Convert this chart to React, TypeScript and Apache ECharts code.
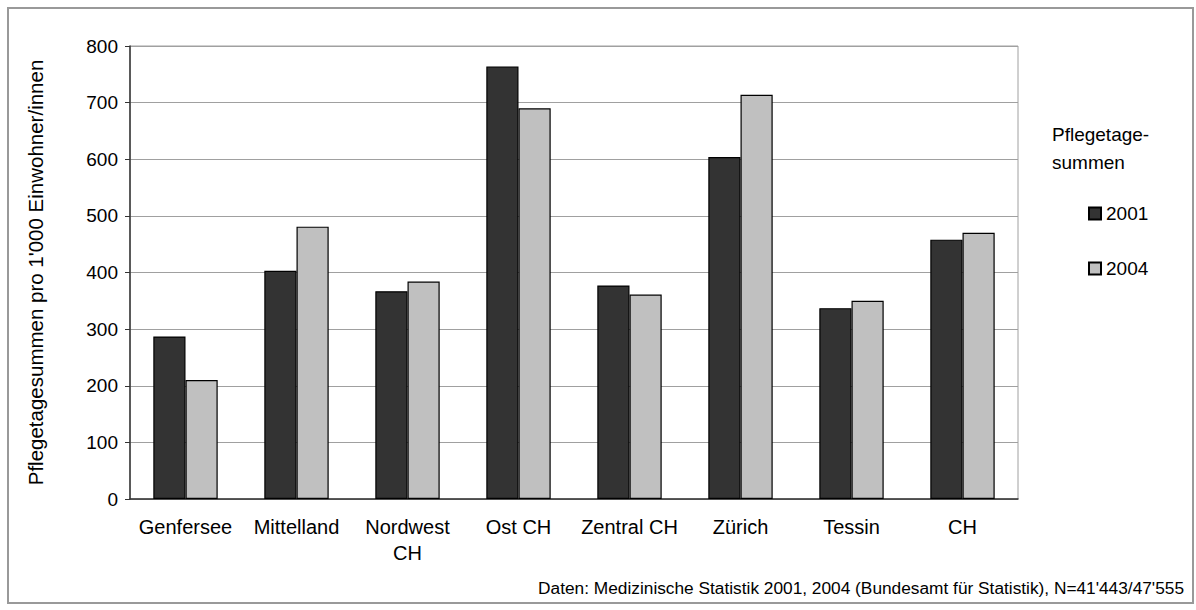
import React, { useEffect, useRef } from "react";
import * as echarts from "echarts";

const categories = ["Genfersee", "Mittelland", "Nordwest\nCH", "Ost CH", "Zentral CH", "Zürich", "Tessin", "CH"];
const values2001 = [287, 403, 367, 764, 377, 604, 337, 458];
const values2004 = [210, 481, 384, 690, 361, 714, 350, 470];
const seriesNames = ["2001", "2004"];
const legendTitle = "Pflegetage-\nsummen";
const yAxisTitle = "Pflegetagesummen pro 1'000 Einwohner/innen";
const footer = "Daten: Medizinische Statistik 2001, 2004 (Bundesamt für Statistik), N=41'443/47'555";

const FONT = "Liberation Sans, Arial, sans-serif";

export default function App() {
  const ref = useRef<HTMLDivElement>(null);
  useEffect(() => {
    if (!ref.current) return;
    const chart = echarts.init(ref.current, undefined, { renderer: "svg" });
    chart.setOption({
      animation: false,
      backgroundColor: "#ffffff",
      textStyle: { fontFamily: FONT },
      grid: {
        left: 130,
        top: 46,
        right: 178,
        bottom: 111,
        show: true,
        borderColor: "#a0a0a0",
        borderWidth: 1,
        backgroundColor: "transparent",
      },
      legend: {
        orient: "vertical",
        left: 1083,
        top: 199,
        itemWidth: 12,
        itemHeight: 12,
        itemGap: 36,
        icon: "rect",
        data: seriesNames,
        textStyle: { fontFamily: FONT, fontSize: 19, color: "#000", padding: [0, 0, 0, 0] },
      },
      graphic: [
        {
          type: "rect",
          shape: { x: 8, y: 8, width: 1185, height: 595 },
          style: { fill: "none", stroke: "#999999", lineWidth: 2 },
          silent: true,
        },
        {
          type: "text",
          left: 1052,
          top: 120,
          style: { text: legendTitle, fontFamily: FONT, fontSize: 19, lineHeight: 28, fill: "#000" },
        },
        {
          type: "text",
          right: 12,
          top: 579,
          style: { text: footer, fontFamily: FONT, fontSize: 17.3, fill: "#000" },
        },
      ],
      xAxis: {
        type: "category",
        data: categories,
        axisLine: { lineStyle: { color: "#333", width: 1.5 } },
        axisTick: { show: false },
        axisLabel: { fontFamily: FONT, fontSize: 20, color: "#000", margin: 15, lineHeight: 26, interval: 0 },
      },
      yAxis: {
        type: "value",
        min: 0,
        max: 800,
        interval: 100,
        name: yAxisTitle,
        nameLocation: "middle",
        nameGap: 84,
        nameTextStyle: { fontFamily: FONT, fontSize: 20.5, color: "#000" },
        axisLine: { show: true, lineStyle: { color: "#333", width: 1.5 } },
        axisTick: { show: true, length: 5, lineStyle: { color: "#333" } },
        axisLabel: { fontFamily: FONT, fontSize: 19, color: "#000", margin: 12 },
        splitLine: { lineStyle: { color: "#a0a0a0", width: 1 } },
      },
      series: [
        {
          name: seriesNames[0],
          type: "bar",
          data: values2001,
          barGap: "0%",
          barCategoryGap: "42%",
          itemStyle: { color: "#333333", borderColor: "#000", borderWidth: 1.2 },
        },
        {
          name: seriesNames[1],
          type: "bar",
          data: values2004,
          barGap: "0%",
          barCategoryGap: "42%",
          itemStyle: { color: "#c0c0c0", borderColor: "#000", borderWidth: 1.2 },
        },
      ],
    });
    return () => chart.dispose();
  }, []);
  return (
    <div
      ref={ref}
      style={{ position: "absolute", left: 0, top: 0, width: 1196, height: 610 }}
    />
  );
}
